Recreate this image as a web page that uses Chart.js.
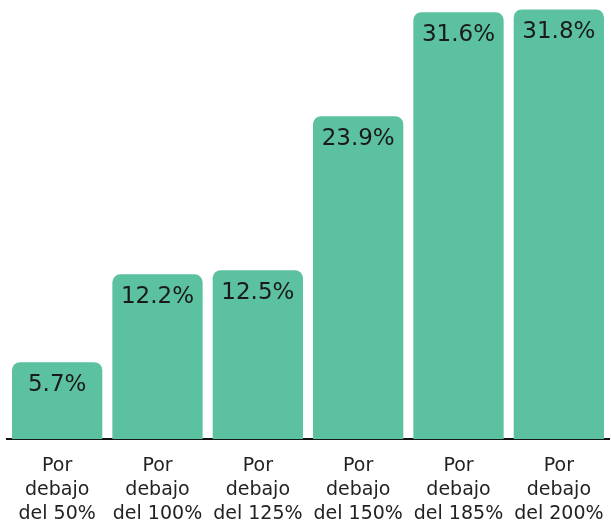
<!DOCTYPE html>
<html>
<head>
<meta charset="utf-8">
<script src="https://cdn.jsdelivr.net/npm/chart.js@4"></script>
<style>
  html, body { margin: 0; padding: 0; background: #fff; overflow: hidden; }
  canvas { display: block; }
</style>
</head>
<body>
<canvas id="c" width="611" height="522"></canvas>
<script>
  // ── Data ──────────────────────────────────────────────
  const categories = [
    ['Por', 'debajo', 'del 50%'],
    ['Por', 'debajo', 'del 100%'],
    ['Por', 'debajo', 'del 125%'],
    ['Por', 'debajo', 'del 150%'],
    ['Por', 'debajo', 'del 185%'],
    ['Por', 'debajo', 'del 200%'],
  ];
  const values = [5.7, 12.2, 12.5, 23.9, 31.6, 31.8];

  const FONT = '"DejaVu Sans", sans-serif';
  const GREEN = '#5cc1a0';

  // value labels inside the top of each bar
  const barLabels = {
    id: 'barLabels',
    afterDatasetsDraw(chart) {
      const ctx = chart.ctx;
      const meta = chart.getDatasetMeta(0);
      ctx.save();
      ctx.font = '23px ' + FONT;
      ctx.fillStyle = '#1a1a1a';
      ctx.textAlign = 'center';
      ctx.textBaseline = 'middle';
      meta.data.forEach((bar, i) => {
        ctx.fillText(values[i].toFixed(1) + '%', bar.x, bar.y + 23);
      });
      ctx.restore();
    }
  };

  new Chart(document.getElementById('c'), {
    type: 'bar',
    data: {
      labels: categories,
      datasets: [{
        data: values,
        backgroundColor: GREEN,
        borderRadius: { topLeft: 8, topRight: 8 },
        borderSkipped: 'bottom',
        categoryPercentage: 1,
        barPercentage: 0.9,
      }],
    },
    options: {
      responsive: false,
      devicePixelRatio: 1,
      animation: false,
      layout: { padding: { left: 7, right: 2, top: 0, bottom: -19 } },
      plugins: { legend: { display: false }, tooltip: { enabled: false } },
      scales: {
        x: {
          grid: { display: false, drawTicks: false },
          border: { display: true, color: '#111', width: 2 },
          ticks: {
            color: '#222',
            font: { family: FONT, size: 19, lineHeight: 1.26 },
            padding: 15,
            maxRotation: 0,
            autoSkip: false,
          },
          // labels fit inside their categories, no extra side padding needed
          afterFit: (s) => { s.paddingLeft = 0; s.paddingRight = 0; },
        },
        y: {
          display: false,
          min: 0,
          max: 32.5,
        },
      },
    },
    plugins: [barLabels],
  });
</script>
</body>
</html>
